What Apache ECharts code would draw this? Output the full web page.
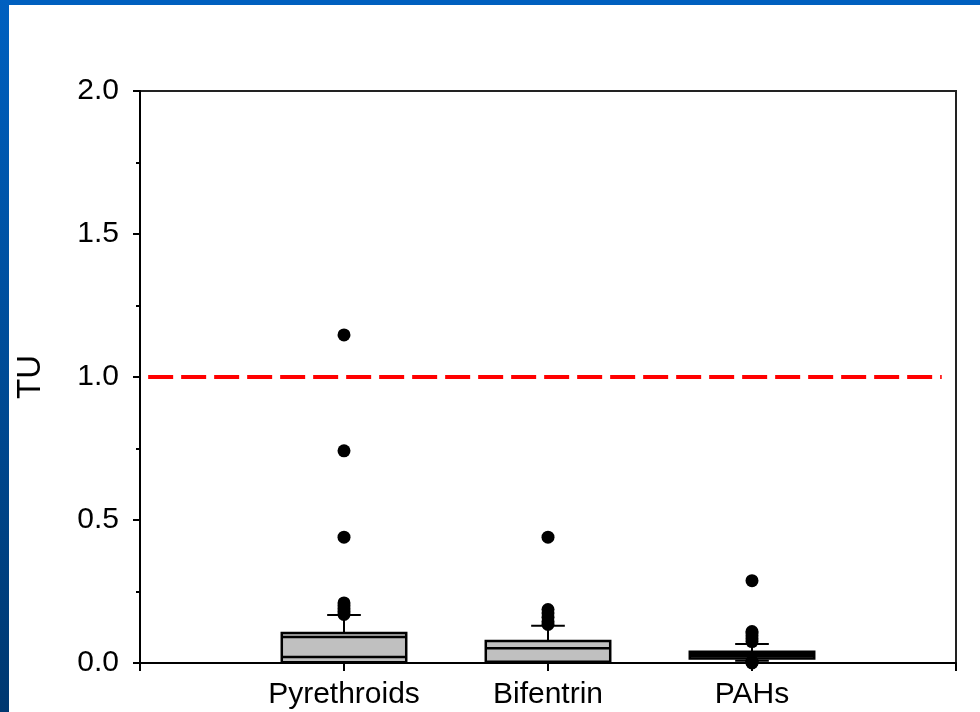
<!DOCTYPE html>
<html>
<head>
<meta charset="utf-8">
<script src="https://cdn.jsdelivr.net/npm/echarts@6/dist/echarts.min.js"></script>
<style>
html,body{margin:0;padding:0;background:#fff;}
#chart{width:980px;height:712px;}
</style>
</head>
<body>
<div id="chart"></div>
<script>
// ---- data ----
var categories = ['Pyrethroids', 'Bifentrin', 'PAHs'];
var boxLow    = [0.003, 0.002, 0.016];
var boxHigh   = [0.105, 0.077, 0.039];
var innerLineA = [0.021, 0.052, 0.024];
var innerLineB = [0.091, 0.004, 0.031];
var whiskerLow  = [0.0, 0.0, 0.008];
var whiskerHigh = [0.168, 0.13, 0.066];
var outliersPyrethroids = [0.17, 0.18, 0.19, 0.20, 0.21, 0.44, 0.742, 1.147];
var outliersBifentrin   = [0.135, 0.145, 0.16, 0.175, 0.187, 0.44];
var outliersPAHs        = [0.0, 0.003, 0.006, 0.075, 0.085, 0.095, 0.105, 0.11, 0.288];
var yTicks = [0, 0.5, 1.0, 1.5, 2.0];
var thresholdTU = 1.0;

// ---- build ----
var boxData = categories.map(function (c, i) {
  return [i + 1, boxLow[i], boxHigh[i], innerLineA[i], innerLineB[i], whiskerLow[i], whiskerHigh[i]];
});
var outlierData = [];
[outliersPyrethroids, outliersBifentrin, outliersPAHs].forEach(function (arr, i) {
  arr.forEach(function (v) { outlierData.push([i + 1, v]); });
});

var chart = echarts.init(document.getElementById('chart'));
var font = 'Liberation Sans, Arial, sans-serif';

function renderBox(params, api) {
  var x = api.value(0);
  var lo = api.coord([x, api.value(1)]);
  var hi = api.coord([x, api.value(2)]);
  var la = api.coord([x, api.value(3)]);
  var lb = api.coord([x, api.value(4)]);
  var wl = api.coord([x, api.value(5)]);
  var wh = api.coord([x, api.value(6)]);
  var bw = api.size([0.61, 0])[0];
  var cw = api.size([0.165, 0])[0];
  var cx = lo[0];
  var ls = { stroke: '#000', lineWidth: 2 };
  var children = [];
  children.push({ type: 'line', shape: { x1: cx, y1: hi[1], x2: cx, y2: wh[1] }, style: ls });
  children.push({ type: 'line', shape: { x1: cx - cw / 2, y1: wh[1], x2: cx + cw / 2, y2: wh[1] }, style: ls });
  if (wl[1] > lo[1] + 0.5) {
    children.push({ type: 'line', shape: { x1: cx, y1: lo[1], x2: cx, y2: wl[1] }, style: ls });
    children.push({ type: 'line', shape: { x1: cx - cw / 2, y1: wl[1], x2: cx + cw / 2, y2: wl[1] }, style: ls });
  }
  children.push({ type: 'rect', shape: { x: cx - bw / 2, y: hi[1], width: bw, height: lo[1] - hi[1] },
    style: { fill: '#c0c0c0', stroke: '#000', lineWidth: 2.5 } });
  children.push({ type: 'line', shape: { x1: cx - bw / 2, y1: la[1], x2: cx + bw / 2, y2: la[1] }, style: { stroke: '#000', lineWidth: 2.5 } });
  children.push({ type: 'line', shape: { x1: cx - bw / 2, y1: lb[1], x2: cx + bw / 2, y2: lb[1] }, style: { stroke: '#000', lineWidth: 2.5 } });
  return { type: 'group', children: children };
}

var option = {
  animation: false,
  backgroundColor: '#ffffff',
  graphic: [
    { type: 'rect', left: 0, top: 0, shape: { width: 980, height: 5 }, style: { fill: '#0060bf' }, z: 100 },
    { type: 'rect', left: 0, top: 0, shape: { width: 9, height: 712 },
      style: { fill: new echarts.graphic.LinearGradient(0, 0, 0, 1, [
        { offset: 0, color: '#0060c0' }, { offset: 1, color: '#003870' }]) }, z: 100 }
  ],
  grid: { left: 140, right: 24, top: 91, bottom: 49, show: true, borderColor: '#222', borderWidth: 2, backgroundColor: 'transparent' },
  xAxis: {
    type: 'value', min: 0, max: 4, interval: 1,
    splitLine: { show: false },
    axisLine: { show: true, lineStyle: { color: '#000', width: 2 } },
    axisTick: { show: true, length: 8, lineStyle: { color: '#000', width: 2 } },
    axisLabel: {
      margin: 17, color: '#000', fontSize: 30, fontFamily: font,
      formatter: function (v) { return categories[v - 1] || ''; }
    }
  },
  yAxis: {
    type: 'value', min: yTicks[0], max: yTicks[yTicks.length - 1], interval: 0.5,
    name: 'TU', nameLocation: 'middle', nameGap: 93,
    nameTextStyle: { color: '#000', fontSize: 33, fontFamily: font },
    splitLine: { show: false },
    axisLine: { show: true, lineStyle: { color: '#000', width: 2 } },
    axisTick: { show: true, length: 7, lineStyle: { color: '#000', width: 2 } },
    minorTick: { show: true, splitNumber: 2, length: 4, lineStyle: { color: '#000', width: 2 } },
    axisLabel: {
      margin: 21, color: '#000', fontSize: 30, fontFamily: font,
      formatter: function (v) { return v.toFixed(1); }
    }
  },
  series: [
    {
      type: 'custom', renderItem: renderBox, data: boxData, z: 3,
      encode: { x: 0, y: [1, 2, 3, 4, 5, 6] },
      markLine: {
        silent: true, symbol: 'none', label: { show: false },
        lineStyle: { color: '#ff0000', width: 4, type: [25, 8], opacity: 1 },
        data: [[{ coord: [0.04, thresholdTU] }, { coord: [3.93, thresholdTU] }]]
      }
    },
    {
      type: 'scatter', data: outlierData, symbol: 'circle', symbolSize: 13,
      itemStyle: { color: '#000', opacity: 1 }, z: 4
    }
  ]
};
chart.setOption(option);
</script>
</body>
</html>
